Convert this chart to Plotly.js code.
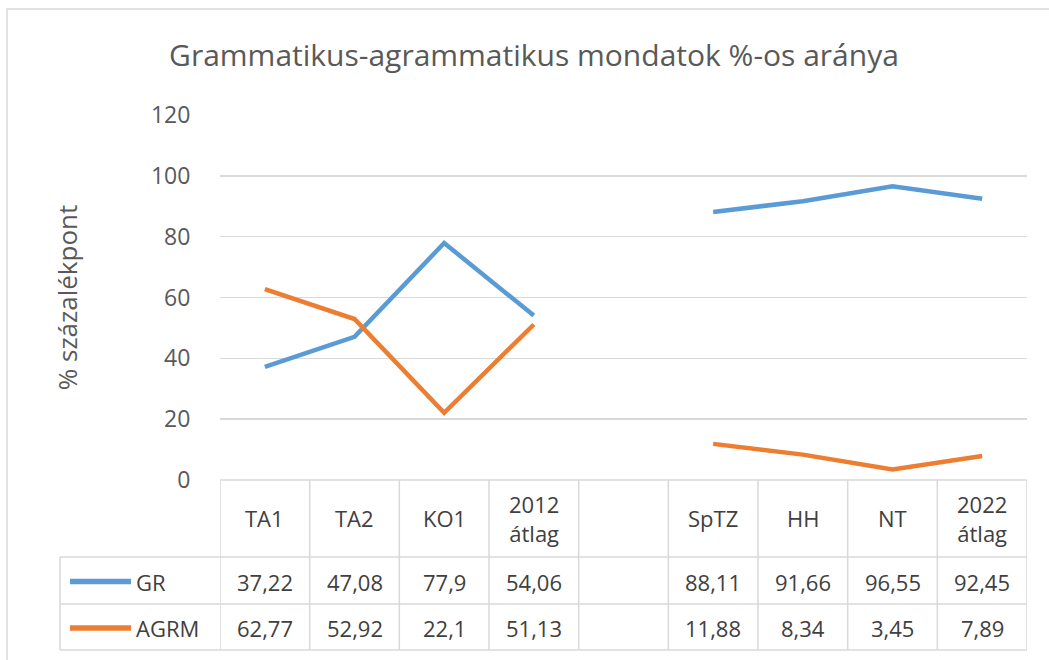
<!DOCTYPE html>
<html>
<head>
<meta charset="utf-8">
<script src="https://cdn.plot.ly/plotly-3.0.1.min.js"></script>
<style>html,body{margin:0;padding:0;background:#fff;}#chart{width:1049px;height:660px;}</style>
</head>
<body>
<div id="chart"></div>
<script>
// ---- data ----
const categories = ["TA1", "TA2", "KO1", "2012<br>átlag", "", "SpTZ", "HH", "NT", "2022<br>átlag"];
const seriesNames = ["GR", "AGRM"];
const grValues = [37.22, 47.08, 77.9, 54.06, null, 88.11, 91.66, 96.55, 92.45];
const agrmValues = [62.77, 52.92, 22.1, 51.13, null, 11.88, 8.34, 3.45, 7.89];
const yTickValues = [0, 20, 40, 60, 80, 100, 120];
const chartTitle = "Grammatikus-agrammatikus mondatok %-os aránya";
const yTitle = "% százalékpont";

// ---- styling / layout helpers ----
const colors = ["#5B9BD5", "#ED7D31"];
const W = 1049, H = 660;
const M = {l: 220, r: 22, t: 115, b: 180};
const plotW = W - M.l - M.r, plotH = H - M.t - M.b;
const px2x = p => (p - M.l) / plotW;           // pixel x -> paper x
const py2y = p => (H - M.b - p) / plotH;       // pixel y -> paper y
const gridCol = "#d9d9d9";
const textCol = "#404040";
const font = "Open Sans, Liberation Sans, sans-serif";
const tableFontSize = 22;

const xs = categories.map((_, i) => i);
const allSeries = [grValues, agrmValues];

const traces = allSeries.map((vals, k) => ({
  x: xs, y: vals, type: "scatter", mode: "lines", name: seriesNames[k],
  line: {color: colors[k], width: 4.5}, connectgaps: false, hoverinfo: "skip"
}));

// table geometry (pixels)
const rowTops = [480, 557, 604];
const rowBot = 650;
const legendLeft = 60;

const shapes = [];
// outer chart border
shapes.push({type: "rect", xref: "paper", yref: "paper", x0: px2x(7), x1: px2x(W + 10), y0: py2y(H + 10), y1: py2y(9),
  line: {color: "#d9d9d9", width: 1.5}, fillcolor: "rgba(0,0,0,0)", layer: "below"});
// horizontal table lines
shapes.push({type: "line", xref: "x", yref: "paper", x0: -0.5, x1: categories.length - 0.5, y0: py2y(rowTops[0]), y1: py2y(rowTops[0]), line: {color: gridCol, width: 1.5}});
[rowTops[1], rowTops[2], rowBot].forEach(p => {
  shapes.push({type: "line", xref: "paper", yref: "paper", x0: px2x(legendLeft), x1: 1, y0: py2y(p), y1: py2y(p), line: {color: gridCol, width: 1.5}});
});
// vertical table lines
for (let i = 0; i <= categories.length; i++) {
  shapes.push({type: "line", xref: "x", yref: "paper", x0: i - 0.5, x1: i - 0.5, y0: py2y(rowTops[0]), y1: py2y(rowBot), line: {color: gridCol, width: 1.5}});
}
shapes.push({type: "line", xref: "paper", yref: "paper", x0: px2x(legendLeft), x1: px2x(legendLeft), y0: py2y(rowTops[1]), y1: py2y(rowBot), line: {color: gridCol, width: 1.5}});
// legend keys
const annotations = [];
seriesNames.forEach((name, k) => {
  const cy = (rowTops[k + 1] + (k === 0 ? rowTops[2] : rowBot)) / 2 + 1;
  shapes.push({type: "line", xref: "paper", yref: "paper", x0: px2x(70), x1: px2x(131), y0: py2y(cy), y1: py2y(cy), line: {color: colors[k], width: 5.5}});
  annotations.push({xref: "paper", yref: "paper", x: px2x(134), y: py2y(cy), xanchor: "left", yanchor: "middle", text: name, showarrow: false, font: {family: font, size: tableFontSize, color: textCol}});
  allSeries[k].forEach((v, i) => {
    if (v === null) return;
    annotations.push({xref: "x", yref: "paper", x: i, y: py2y(cy), xanchor: "center", yanchor: "middle", text: String(v).replace(".", ","), showarrow: false, font: {family: font, size: tableFontSize, color: textCol}});
  });
});
// header labels
categories.forEach((c, i) => {
  if (!c) return;
  annotations.push({xref: "x", yref: "paper", x: i, y: py2y(518), xanchor: "center", yanchor: "middle", text: c, showarrow: false, font: {family: font, size: tableFontSize, color: textCol}});
});

const layout = {
  width: W, height: H, margin: M, paper_bgcolor: "#fff", plot_bgcolor: "#fff",
  showlegend: false,
  title: {text: chartTitle, x: 534 / W, xanchor: "center", xref: "container", y: 1 - 55 / H, yref: "container", yanchor: "middle",
    font: {family: font, size: 30, color: "#595959"}},
  xaxis: {range: [-0.5, categories.length - 0.5], showgrid: false, zeroline: false, showticklabels: false, ticks: "", showline: false, fixedrange: true},
  yaxis: {range: [0, 120], tickvals: yTickValues, showgrid: true, gridcolor: gridCol, gridwidth: 1.5, zeroline: false, showline: false,
    ticks: "outside", ticklen: 24, tickcolor: "rgba(0,0,0,0)", tickfont: {family: font, size: 23, color: "#595959"},
    title: {text: yTitle, font: {family: font, size: 26, color: "#595959"}, standoff: 65}, automargin: false, fixedrange: true},
  shapes: shapes, annotations: annotations
};

Plotly.newPlot("chart", traces, layout, {displayModeBar: false, staticPlot: true});
</script>
</body>
</html>
